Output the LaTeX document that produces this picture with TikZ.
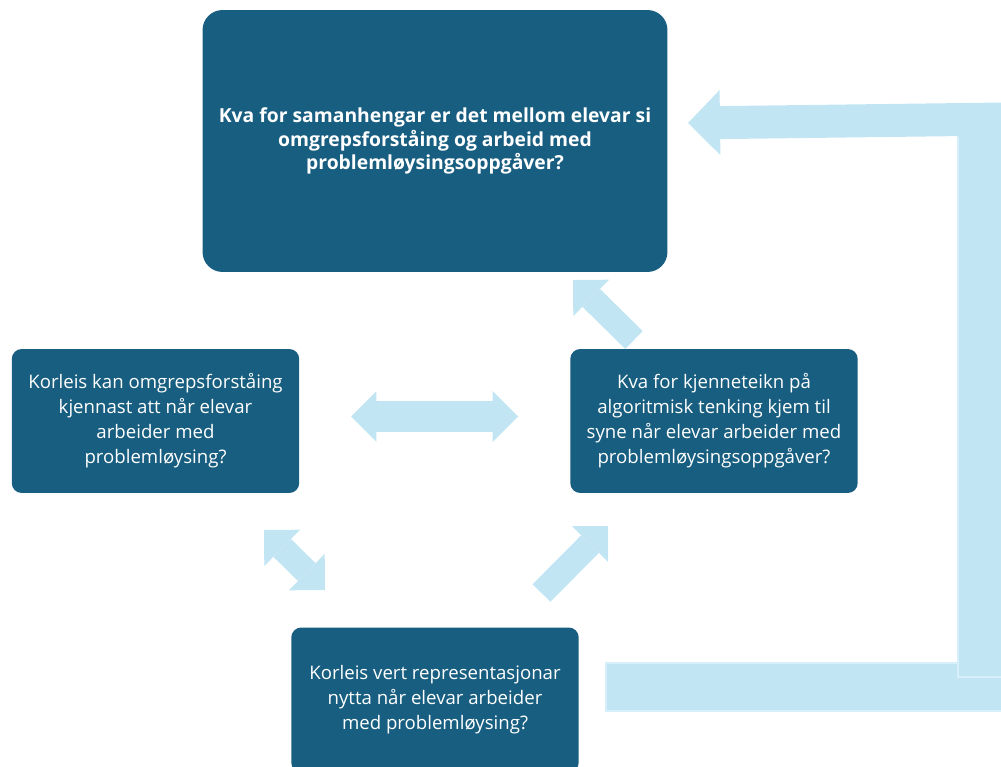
\documentclass[tikz,border=0pt]{standalone}
\usepackage{fontspec}
\setmainfont{Open Sans}
\usetikzlibrary{arrows.meta}

\definecolor{boxteal}{HTML}{185E80}
\definecolor{arrowblue}{HTML}{C2E5F4}
\definecolor{arrowedge}{HTML}{D6EFFA}

\tikzset{
    qbox/.style={fill=boxteal, text=white, align=center, inner sep=0pt,
        rounded corners=0.2cm, minimum width=5.75cm, minimum height=2.88cm,
        font=\fontsize{10.6}{14.2}\selectfont},
    blockarrow/.style={draw=arrowblue, line width=0.5cm,
        -{Triangle[length=0.51cm, width=1.02cm, line width=0pt]}},
    dblockarrow/.style={blockarrow,
        {Triangle[length=0.51cm, width=1.02cm, line width=0pt]}-{Triangle[length=0.51cm, width=1.02cm, line width=0pt]}}
}

\begin{document}
\begin{tikzpicture}[x=0.02cm, y=-0.02cm]
    \useasboundingbox (0,0) rectangle (1001,767);
    \clip (0,0) rectangle (1001,767);

    % bent return arrow from the bottom question up to the main one
    \fill[arrowblue, draw=arrowedge, line width=0.03cm] (606,663) rectangle (1010,711);
    \fill[arrowblue, draw=arrowedge, line width=0.03cm] (958,104) rectangle (1010,677);

    \node[qbox, minimum width=9.3cm, minimum height=5.24cm, rounded corners=0.4cm,
        font=\bfseries\fontsize{11}{13.6}\selectfont] (main) at (435,141)
        {Kva for samanhengar er det mellom elevar si\\omgrepsforståing og arbeid med\\problemløysingsoppgåver?};
    \node[qbox] (concept) at (155.5,421)
        {Korleis kan omgrepsforståing\\kjennast att når elevar\\arbeider med\\problemløysing?};
    \node[qbox] (algo) at (714,421)
        {Kva for kjenneteikn på\\algoritmisk tenking kjem til\\syne når elevar arbeider med\\problemløysingsoppgåver?};
    \node[qbox, minimum height=2.9cm] (repr) at (435,700)
        {Korleis vert representasjonar\\nytta når elevar arbeider\\med problemløysing?};

    % arrow ends
    \coordinate (algo-out) at (634,340);
    \coordinate (main-in) at (573,280);
    \coordinate (concept-r) at (351,416.5);
    \coordinate (algo-l) at (518,416.5);
    \coordinate (concept-d) at (264,530);
    \coordinate (repr-ul) at (325,590);
    \coordinate (repr-ur) at (541.5,593);
    \coordinate (algo-d) at (608,526);
    \coordinate (ret-top) at (1005,119);
    \coordinate (main-east) at (688,123);

    \draw[blockarrow] (algo-out) -- (main-in);
    \draw[dblockarrow, line width=0.62cm] (concept-r) -- (algo-l);
    \draw[dblockarrow] (concept-d) -- (repr-ul);
    \draw[blockarrow] (repr-ur) -- (algo-d);
    \draw[blockarrow, line width=0.66cm,
        -{Triangle[length=0.64cm, width=1.3cm, line width=0pt]}] (ret-top) -- (main-east);
\end{tikzpicture}
\end{document}
